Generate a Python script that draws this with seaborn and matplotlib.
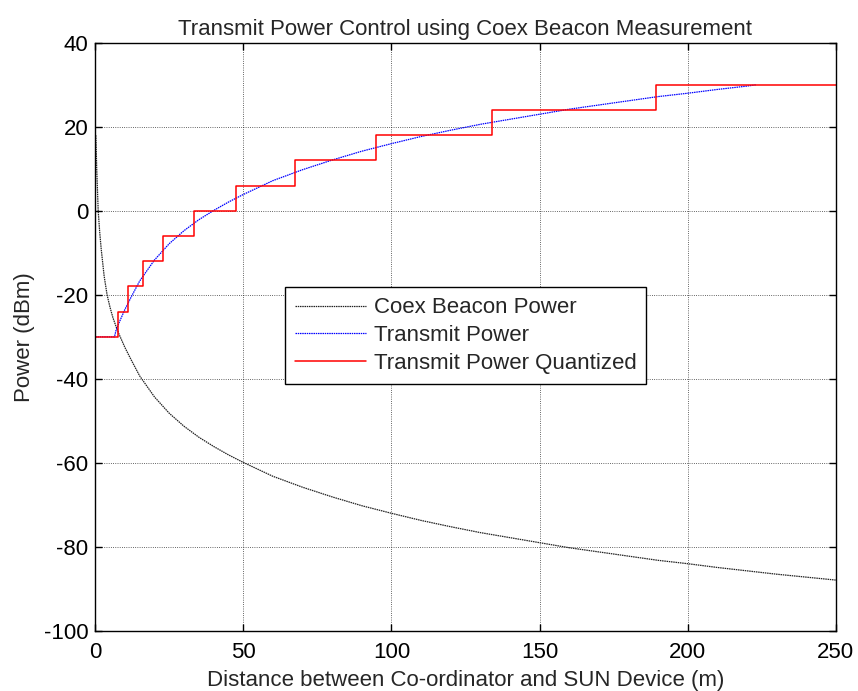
import numpy as np
import pandas as pd
import matplotlib
matplotlib.use("Agg")
import matplotlib.pyplot as plt
import seaborn as sns

# distance (m) and coex beacon power (dBm)
beacon_dist = [0.2, 0.5, 1, 1.5, 2, 3, 4, 5, 6, 7, 8, 10, 12, 15, 20, 25, 30, 35, 40, 45,
               50, 60, 70, 80, 90, 100, 110, 120, 130, 140, 150, 160, 170, 180, 190, 200,
               210, 220, 230, 240, 250]
beacon_power = [18, 10, 0, -5, -9, -15.5, -20, -23, -25.5, -27.5, -29.3, -32.5, -35.3, -39.3,
                -44.3, -48.2, -51.3, -53.9, -56.1, -58.1, -59.9, -63.2, -65.8, -68.1, -70.2,
                -72, -73.7, -75.2, -76.6, -77.8, -79, -80.2, -81.2, -82.2, -83.2, -84,
                -84.9, -85.7, -86.5, -87.2, -87.9]

# transmit power (dBm)
tx_dist = [0, 6.5, 7, 8, 10, 12, 15, 20, 25, 30, 35, 40, 45, 50, 60, 70, 80, 90, 100, 110,
           120, 130, 140, 150, 160, 170, 180, 190, 200, 210, 220, 223]
tx_power = [-30, -30, -28.5, -26.7, -23.5, -20.7, -16.7, -11.7, -7.8, -4.7, -2.1, 0.1, 2.1, 3.9,
            7.2, 9.8, 12.1, 14.2, 16, 17.7, 19.2, 20.6, 21.8, 23, 24.2, 25.2, 26.2, 27.2,
            28, 28.9, 29.7, 30]

# quantized transmit power: step edges and levels
q_dist = [0, 7.8, 10.9, 16.0, 23.0, 33.4, 47.5, 67.6, 94.9, 134.0, 189.4, 250]
q_power = [-30, -24, -18, -12, -6, 0, 6, 12, 18, 24, 30, 30]

sns.set_style("ticks")
plt.rcParams["font.family"] = ["Liberation Sans", "DejaVu Sans"]
plt.rcParams["axes.unicode_minus"] = False

fig = plt.figure(figsize=(8.58, 6.91), dpi=100)
ax = fig.add_axes([0.111, 0.087, 0.863, 0.851])

sns.lineplot(x=beacon_dist, y=beacon_power, ax=ax, color="#222222", linewidth=0.9,
             label="Coex Beacon Power").lines[-1].set_dashes([1.2, 0.6])
sns.lineplot(x=tx_dist, y=tx_power, ax=ax, color="blue", linewidth=0.9,
             label="Transmit Power").lines[-1].set_dashes([1.2, 0.6])
sns.lineplot(x=q_dist, y=q_power, ax=ax, color="red", linewidth=1.1,
             drawstyle="steps-post", label="Transmit Power Quantized")

ax.set_xlim(0, 250)
ax.set_ylim(-100, 40)
ax.set_xticks(range(0, 251, 50))
ax.set_yticks(range(-100, 41, 20))
ax.grid(True, linestyle=":", color="black", linewidth=0.6, alpha=0.8)
ax.tick_params(direction="in", top=True, right=True, length=5, labelsize=16,
               colors="black", width=1)
ax.tick_params(axis="x", pad=8)
ax.tick_params(axis="y", pad=5)
for s in ax.spines.values():
    s.set_visible(True)
    s.set_linewidth(1.0)
    s.set_color("black")

ax.set_title("Transmit Power Control using Coex Beacon Measurement", fontsize=16, pad=6)
ax.set_xlabel("Distance between Co-ordinator and SUN Device (m)", fontsize=16, labelpad=5)
ax.set_ylabel("Power (dBm)", fontsize=16, labelpad=6)

leg = ax.legend(loc="upper left", bbox_to_anchor=(0.256, 0.584), fontsize=16,
                frameon=True, fancybox=False, edgecolor="black", framealpha=1,
                borderaxespad=0, handlelength=3.2, handletextpad=0.35,
                borderpad=0.45, labelspacing=0.3)
leg.get_frame().set_linewidth(1.0)
for h in leg.get_lines()[:2]:
    h.set_dashes([1.2, 0.6])

fig.savefig("out.png", dpi=100)
